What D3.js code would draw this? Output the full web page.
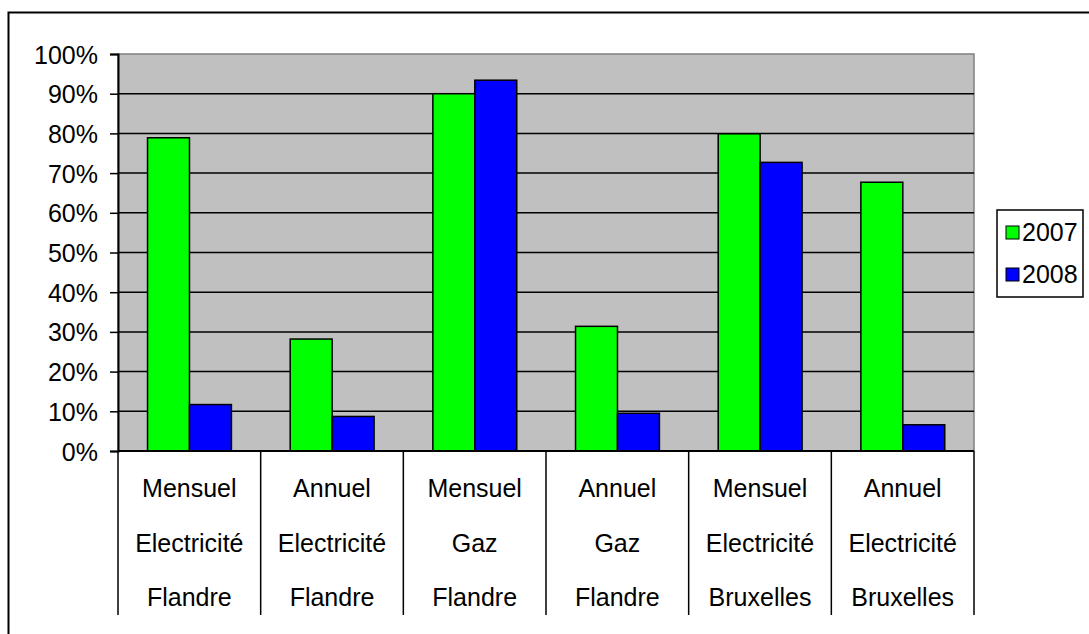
<!DOCTYPE html>
<html>
<head>
<meta charset="utf-8">
<script src="https://cdn.jsdelivr.net/npm/d3@7"></script>
<style>
  body { margin: 0; background: #fff; }
  svg text { font-family: "Liberation Sans", Arial, sans-serif; fill: #000; }
</style>
</head>
<body>
<svg id="chart" width="1089" height="634"></svg>
<script>
// data
const categories = [
    ['Mensuel', 'Electricité', 'Flandre'],
    ['Annuel', 'Electricité', 'Flandre'],
    ['Mensuel', 'Gaz', 'Flandre'],
    ['Annuel', 'Gaz', 'Flandre'],
    ['Mensuel', 'Electricité', 'Bruxelles'],
    ['Annuel', 'Electricité', 'Bruxelles']
];
const series = ['2007', '2008'];
const values2007 = [0.789, 0.282, 0.90, 0.314, 0.799, 0.677];
const values2008 = [0.117, 0.087, 0.934, 0.095, 0.727, 0.066];
const yTicks = [0, 0.1, 0.2, 0.3, 0.4, 0.5, 0.6, 0.7, 0.8, 0.9, 1.0];
const colors = ['#00ff00', '#0000ff'];

const svg = d3.select('#chart');

const plot = {left: 118, right: 974, top: 54, bottom: 451};
const fontSize = '25px';

// outer frame
svg.append('rect')
    .attr('x', 8.5).attr('y', 12.5)
    .attr('width', 1100).attr('height', 640)
    .style('fill', '#fff')
    .style('stroke', '#000')
    .style('stroke-width', 2);

const x0 = d3.scaleBand()
    .domain(d3.range(categories.length))
    .range([plot.left, plot.right]);

const bw = x0.bandwidth();
const x1 = d3.scaleBand()
    .domain(series)
    .range([bw * 0.207, bw * 0.795]);

const y = d3.scaleLinear()
    .domain([0, 1])
    .range([plot.bottom, plot.top]);

// plot background
svg.append('rect')
    .attr('x', plot.left).attr('y', plot.top)
    .attr('width', plot.right - plot.left)
    .attr('height', plot.bottom - plot.top)
    .style('fill', '#c0c0c0')
    .style('stroke', '#808080')
    .style('stroke-width', 1.5);

// gridlines
svg.append('g')
    .selectAll('line')
    .data(yTicks.slice(1, -1))
    .enter()
    .append('line')
    .attr('x1', plot.left).attr('x2', plot.right)
    .attr('y1', d => y(d)).attr('y2', d => y(d))
    .style('stroke', '#000')
    .style('stroke-width', 1.5);

// bars
const rows = categories.map((c, i) => ({i: i, vals: [values2007[i], values2008[i]]}));

svg.append('g')
    .selectAll('g')
    .data(rows)
    .enter()
    .append('g')
    .attr('transform', d => 'translate(' + x0(d.i) + ',0)')
    .selectAll('rect')
    .data(d => d.vals.map((v, k) => ({s: series[k], v: v, k: k})))
    .enter()
    .append('rect')
    .attr('x', d => x1(d.s))
    .attr('y', d => y(d.v))
    .attr('width', x1.bandwidth())
    .attr('height', d => y(0) - y(d.v))
    .style('fill', d => colors[d.k])
    .style('stroke', '#000')
    .style('stroke-width', 1.5);

// y axis
const yAxis = d3.axisLeft(y)
    .tickValues(yTicks)
    .tickFormat(d3.format('.0%'))
    .tickSize(8)
    .tickPadding(12);

const ya = svg.append('g')
    .attr('transform', 'translate(' + plot.left + ',0)')
    .call(yAxis);
ya.select('.domain').style('stroke', '#000').style('stroke-width', 2);
ya.selectAll('.tick line').style('stroke', '#000').style('stroke-width', 1.5);
ya.selectAll('.tick text')
    .style('font-size', fontSize)
    .style('font-family', '"Liberation Sans", Arial, sans-serif')
    .attr('dy', '0.36em');

// category axis
svg.append('line')
    .attr('x1', plot.left).attr('x2', plot.right)
    .attr('y1', plot.bottom).attr('y2', plot.bottom)
    .style('stroke', '#000')
    .style('stroke-width', 2);

svg.append('g')
    .selectAll('line')
    .data(d3.range(categories.length + 1))
    .enter()
    .append('line')
    .attr('x1', d => plot.left + d * bw)
    .attr('x2', d => plot.left + d * bw)
    .attr('y1', plot.bottom)
    .attr('y2', 615)
    .style('stroke', '#000')
    .style('stroke-width', 1.5);

const lineY = [488, 543, 597];
svg.append('g')
    .selectAll('g')
    .data(categories)
    .enter()
    .append('g')
    .attr('transform', (d, i) => 'translate(' + (x0(i) + bw / 2) + ',0)')
    .selectAll('text')
    .data(d => d)
    .enter()
    .append('text')
    .attr('y', (d, j) => lineY[j])
    .attr('dy', '0.36em')
    .attr('text-anchor', 'middle')
    .style('font-size', fontSize)
    .text(d => d);

// legend
const legend = svg.append('g');
legend.append('rect')
    .attr('x', 997).attr('y', 210)
    .attr('width', 86).attr('height', 87)
    .style('fill', '#fff')
    .style('stroke', '#000')
    .style('stroke-width', 1.5);

const li = legend.selectAll('g')
    .data(series)
    .enter()
    .append('g')
    .attr('transform', (d, i) => 'translate(1006,' + (232 + i * 42) + ')');

li.append('rect')
    .attr('x', 0).attr('y', -6)
    .attr('width', 13).attr('height', 13)
    .style('fill', (d, i) => colors[i])
    .style('stroke', '#000')
    .style('stroke-width', 1);

li.append('text')
    .attr('x', 16)
    .attr('dy', '0.36em')
    .style('font-size', fontSize)
    .text(d => d);
</script>
</body>
</html>
